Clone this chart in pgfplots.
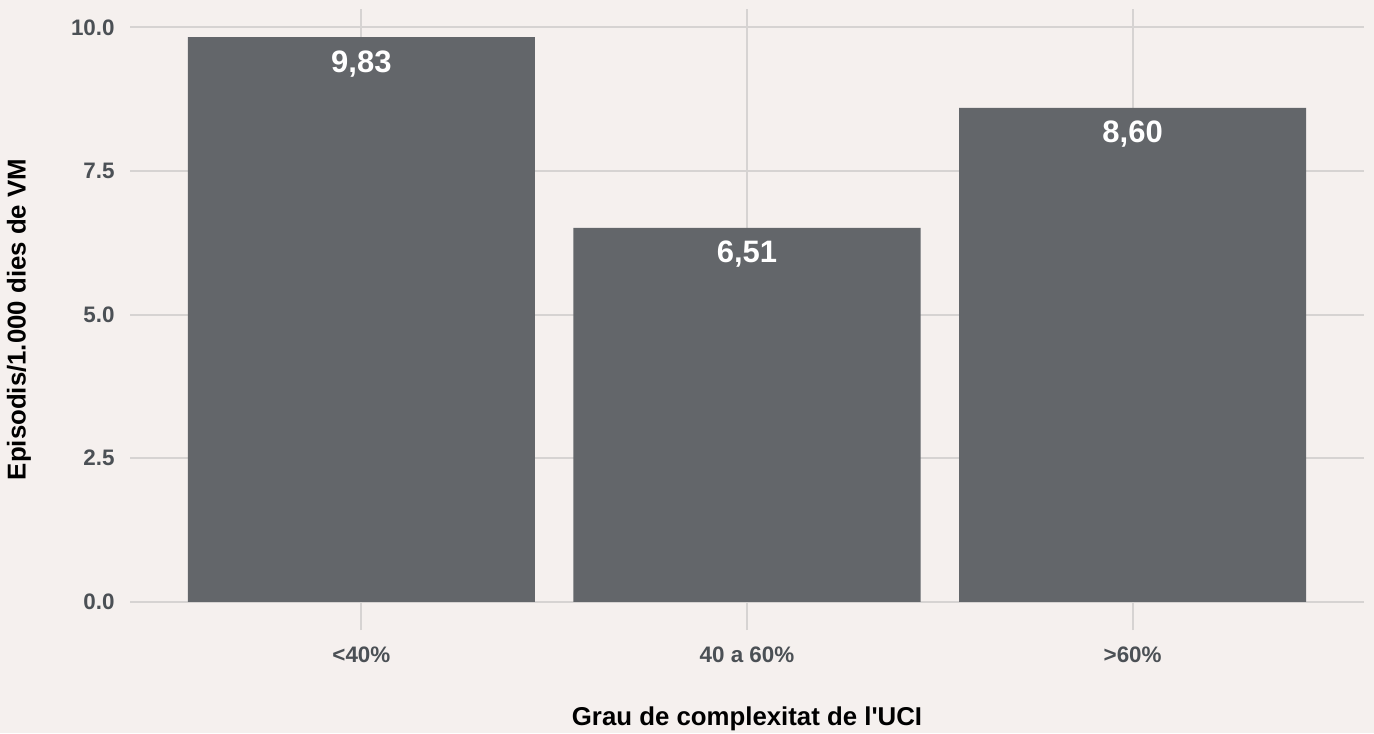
\documentclass[border=0pt]{standalone}
\usepackage{fontspec}
\setmainfont{Liberation Sans}
\usepackage{pgfplots}
\pgfplotsset{compat=1.18}
\definecolor{bg}{HTML}{F5F0EE}
\definecolor{barc}{HTML}{63666A}
\definecolor{gridc}{HTML}{D6D3D2}
\definecolor{tickc}{HTML}{4B5055}
\begin{document}
\begin{tikzpicture}
\fill[bg] (0,0) rectangle (687pt,366.5pt);
\useasboundingbox (0,0) rectangle (687pt,366.5pt);
\begin{axis}[
  at={(65pt,51.5pt)}, anchor=south west,
  scale only axis, width=617pt, height=310.5pt,
  xmin=0.4, xmax=3.6, ymin=-0.4915, ymax=10.3215,
  xtick={1,2,3}, xticklabels={{<40\%},{40 a 60\%},{>60\%}},
  ytick={0,2.5,5,7.5,10},
  yticklabels={0.0,2.5,5.0,7.5,10.0},
  grid=major, major grid style={gridc, line width=1pt},
  axis line style={draw=none}, tick style={draw=none}, major tick length=0pt,
  tick label style={font=\fontsize{11.2}{13}\selectfont\bfseries, text=tickc, inner sep=0pt},
  yticklabel style={anchor=east, xshift=-7.5pt},
  xticklabel style={anchor=base, yshift=-16pt},
  xlabel={Grau de complexitat de l\textquotesingle UCI},
  ylabel={Episodis/1.000 dies de VM},
  label style={font=\fontsize{12.9}{15}\selectfont\bfseries, text=black},
  xlabel style={at={(axis description cs:0.5,-0.15298)}, anchor=base},
  ylabel style={at={(axis description cs:-0.08995,0.5)}, anchor=center},
  ybar, bar width=0.9,
  point meta=explicit symbolic,
  nodes near coords,
  every node near coord/.append style={anchor=north, inner sep=0pt, yshift=-6.5pt, text=white, font=\fontsize{15.5}{18}\selectfont\bfseries},
]
\addplot[fill=barc, draw=none] table[x=x, y=y, meta=label] {
x y label
1 9.83 9,83
2 6.51 6,51
3 8.60 8,60
};
\end{axis}
\end{tikzpicture}
\end{document}
